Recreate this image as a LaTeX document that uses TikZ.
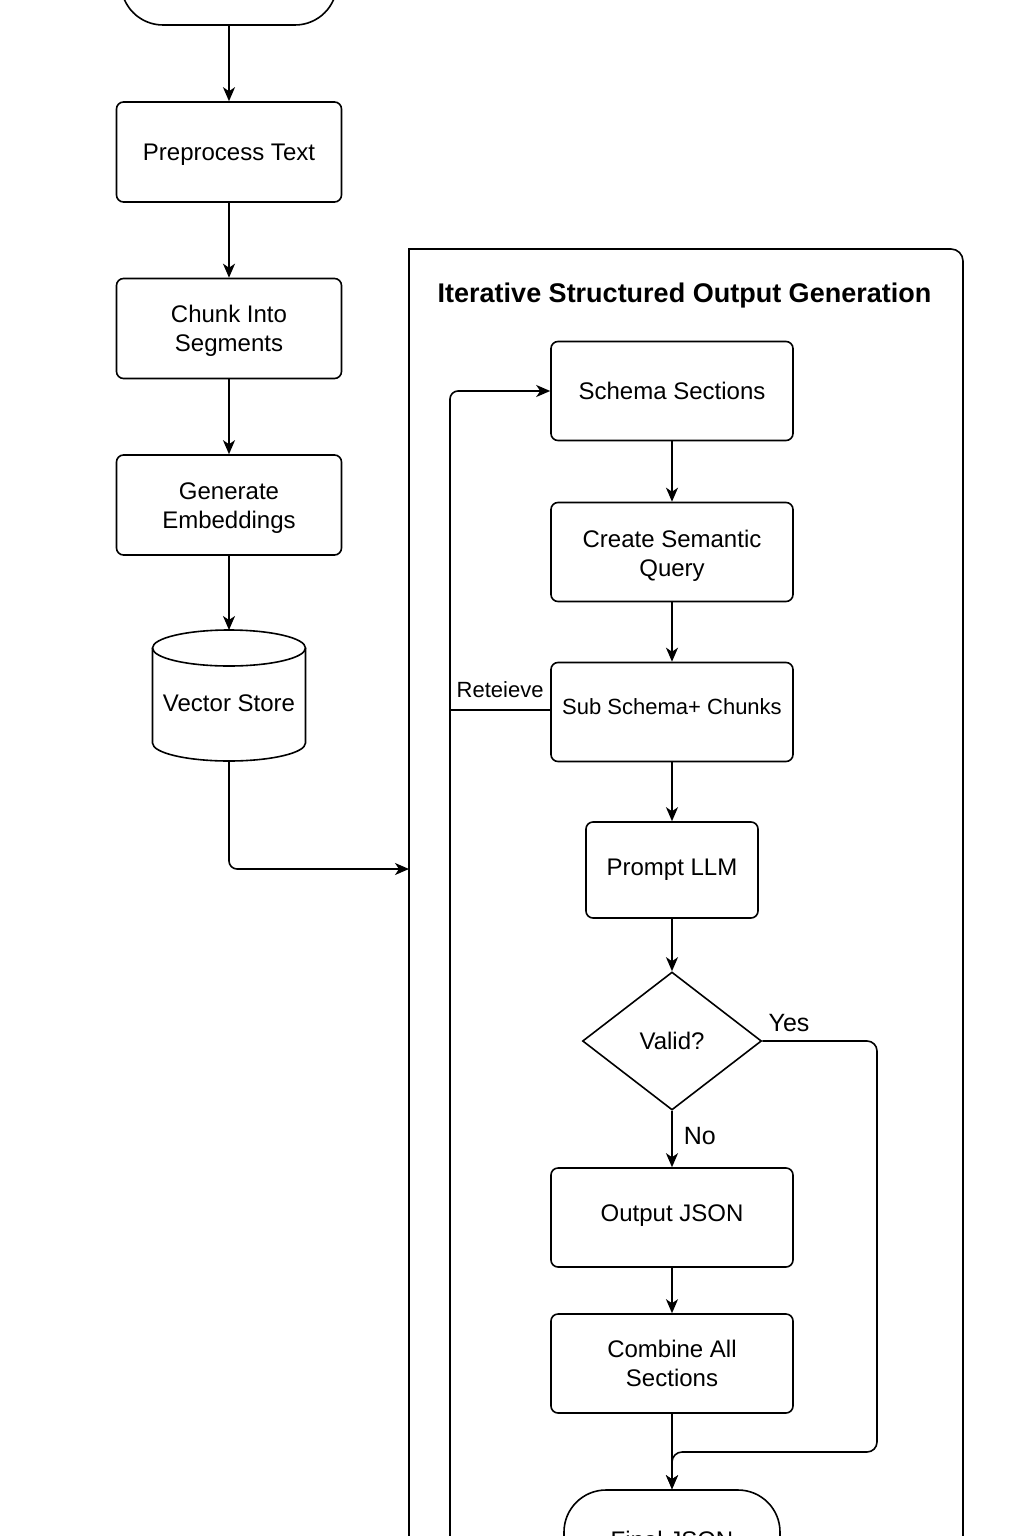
\documentclass[tikz,border=0pt]{standalone}
\usepackage{fontspec}
\setmainfont{Liberation Sans}
\usetikzlibrary{arrows.meta,shapes.geometric}
\newcommand{\mvtxt}[2]{\raisebox{#1}[\height][\depth]{#2}}
\begin{document}
\begin{tikzpicture}[x=1pt,y=-1pt,line width=1.6pt,
  txt/.style={font=\fontsize{24}{29}\selectfont},
  box/.style={draw,rounded corners=7pt,minimum width=225pt,minimum height=100pt,align=center,inner sep=2pt,txt},
  rbox/.style={box,minimum width=242pt,minimum height=99pt},
  term/.style={draw,rounded corners=42pt,minimum width=216pt,minimum height=100pt,align=center,txt},
  dia/.style={draw,diamond,inner sep=0pt,minimum width=179pt,minimum height=138pt,txt},
  lbl/.style={font=\fontsize{22}{26}\selectfont,inner sep=0pt},
  yn/.style={font=\fontsize{25}{30}\selectfont,inner sep=0pt},
  arr/.style={-{Stealth[length=14pt,width=12pt,inset=4pt]}}]
\useasboundingbox (0,0) rectangle (1024,1536);
\clip (0,0) rectangle (1024,1536);
% container
\draw (409,1620) -- (409,249) -- (951,249) arc[start angle=90,end angle=0,radius=12pt] -- (963,1620);
\node[font=\bfseries\fontsize{27}{32}\selectfont,inner sep=0pt] (title) at (684.5,296) {Iterative Structured Output Generation};
\coordinate (cin) at (409,869);
% left column
\node[term] (start) at (229,-25) {};
\node[box] (pre) at (229,152) {\mvtxt{-3pt}{Preprocess Text}};
\node[box] (chunk) at (229,328.5) {\mvtxt{-3pt}{\begin{tabular}{@{}c@{}}Chunk Into\\Segments\end{tabular}}};
\node[box] (emb) at (229,505) {\mvtxt{-3pt}{\begin{tabular}{@{}c@{}}Generate\\Embeddings\end{tabular}}};
\node[minimum width=153pt,minimum height=131pt,inner sep=0pt,txt] (vs) at (229,695.5) {\mvtxt{-8pt}{Vector Store}};
\draw (229,648) ellipse [x radius=76.5pt,y radius=18pt];
\draw (152.5,648) -- (152.5,743) arc[start angle=180,end angle=360,x radius=76.5pt,y radius=18pt] -- (305.5,648);
% right column
\node[rbox] (schema) at (672,391) {Schema Sections};
\node[rbox] (query) at (672,552) {\mvtxt{-4pt}{\begin{tabular}{@{}c@{}}Create Semantic\\Query\end{tabular}}};
\node[rbox,font=\fontsize{22}{26}\selectfont] (sub) at (672,712) {\mvtxt{5pt}{Sub Schema+ Chunks}};
\node[box,minimum width=172pt,minimum height=96pt] (llm) at (672,870) {Prompt LLM};
\node[dia] (valid) at (672,1041) {Valid?};
\node[rbox] (out) at (672,1217.5) {\mvtxt{2pt}{Output JSON}};
\node[rbox] (comb) at (672,1363.5) {Combine All\\Sections};
\node[term] (final) at (672,1540) {Final JSON};
% connectors
\draw[arr] (start) -- (pre);
\draw[arr] (pre) -- (chunk);
\draw[arr] (chunk) -- (emb);
\draw[arr] (emb.south) -- (229,630);
\draw[arr,rounded corners=8pt] (vs.south) |- (cin);
\draw[arr] (schema) -- (query);
\draw[arr] (query) -- (sub);
\draw[arr] (sub) -- (llm);
\draw[arr] (llm) -- (valid);
\draw[arr] (valid) -- node[yn,right=11pt,pos=0.45] {No} (out);
\draw[arr] (out) -- (comb);
\draw[arr] (comb) -- (final);
\draw[arr,rounded corners=10pt] (valid.east) -- (877,1041) -- (877,1452) -- (672,1452) -- (final.north);
\node[yn] (yes) at (789,1023) {Yes};
\coordinate (rj) at (450,710);
\coordinate (loopbot) at (450,1620);
\draw (sub.west |- rj) -- node[lbl,above=11pt] {Reteieve} (rj);
\draw[arr,rounded corners=8pt] (loopbot) |- (schema.west);
\end{tikzpicture}
\end{document}
